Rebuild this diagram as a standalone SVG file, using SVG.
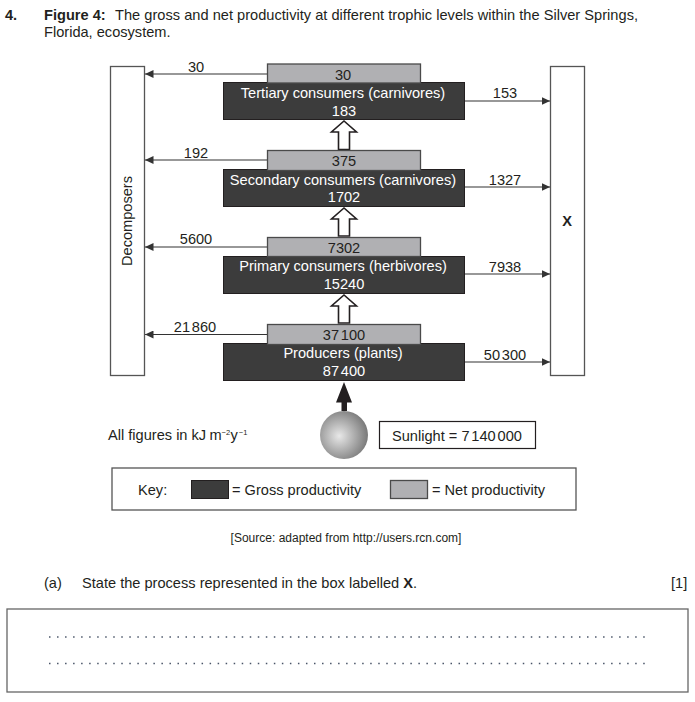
<svg xmlns="http://www.w3.org/2000/svg" width="695" height="702" viewBox="0 0 695 702">
<style>
text{font-family:"Liberation Sans",Arial,sans-serif;font-size:14.6px;fill:#231f20}
.m{text-anchor:middle}
.w{fill:#fff}
.b{font-weight:bold}
.n{word-spacing:-2.2px}
.sup{font-size:7.500px}
.gross{fill:#3c3c3c;stroke:#231f20;stroke-width:1}
.net{fill:#b0b0b3;stroke:#4a4a4a;stroke-width:1.3}
.box{fill:#fff;stroke:#555;stroke-width:1.3}
.flow{stroke:#333;stroke-width:1.2;fill:none}
.up{fill:#fff;stroke:#231f20;stroke-width:1.6}
.dots{stroke:#4a5568;stroke-width:1.6;stroke-dasharray:1.5 6.53;fill:none}
</style>
<defs>
<marker id="ah" markerUnits="userSpaceOnUse" markerWidth="9" markerHeight="8" refX="8.5" refY="4" orient="auto"><path d="M0 0L8.5 4L0 8Z" fill="#333"/></marker>
<radialGradient id="sun" cx="0.4" cy="0.52" r="0.58"><stop offset="0" stop-color="#e8e8e8"/><stop offset="1" stop-color="#7d7d7d"/></radialGradient>
</defs>
<text x="5" y="20" class="b">4.</text>
<text x="44" y="20" class="b">Figure 4:</text>
<text x="115" y="20" textLength="523">The gross and net productivity at different trophic levels within the Silver Springs,</text>
<text x="44" y="37">Florida, ecosystem.</text>

<g id="connectors">
<line class="flow" x1="267" y1="74" x2="145" y2="74" marker-end="url(#ah)"/>
<line class="flow" x1="267" y1="160" x2="145" y2="160" marker-end="url(#ah)"/>
<line class="flow" x1="267" y1="247" x2="145" y2="247" marker-end="url(#ah)"/>
<line class="flow" x1="267" y1="334.500" x2="145" y2="334.500" marker-end="url(#ah)"/>
<line class="flow" x1="465" y1="101" x2="550" y2="101" marker-end="url(#ah)"/>
<line class="flow" x1="465" y1="187" x2="550" y2="187" marker-end="url(#ah)"/>
<line class="flow" x1="465" y1="274" x2="550" y2="274" marker-end="url(#ah)"/>
<line class="flow" x1="465" y1="362" x2="550" y2="362" marker-end="url(#ah)"/>
<path class="up" d="M338.500 149.500V132H331.500L344 121L356.500 132H349.500V149.500Z"/>
<path class="up" d="M338.500 236V219H331.500L344 208L356.500 219H349.500V236Z"/>
<path class="up" d="M338.500 323V306H331.500L344 295L356.500 306H349.500V323Z"/>
<path d="M341.500 411V402.500H336L344 382L352 402.500H347V411Z" fill="#231f20"/>
</g>

<g id="decomposers">
<rect class="box" x="110.500" y="66.500" width="34" height="309"/>
<text class="m" transform="translate(132 221) rotate(-90)">Decomposers</text>
</g>
<g id="x">
<rect class="box" x="550.500" y="66.500" width="34" height="309"/>
<text class="m b" x="567" y="226">X</text>
</g>

<g id="tertiary">
<rect class="gross" x="223.500" y="82.500" width="241" height="37"/>
<rect class="net" x="267.500" y="64" width="153" height="19"/>
<text class="m" x="343" y="80">30</text>
<text class="m w" x="343" y="98">Tertiary consumers (carnivores)</text>
<text class="m w" x="344" y="116">183</text>
</g>
<g id="secondary">
<rect class="gross" x="223.500" y="169.500" width="241" height="37"/>
<rect class="net" x="267.500" y="150.500" width="153" height="20"/>
<text class="m" x="344" y="166">375</text>
<text class="m w" x="343" y="185">Secondary consumers (carnivores)</text>
<text class="m w" x="344" y="202">1702</text>
</g>
<g id="primary">
<rect class="gross" x="223.500" y="256.500" width="241" height="37"/>
<rect class="net" x="267.500" y="237.500" width="153" height="19"/>
<text class="m" x="344" y="253">7302</text>
<text class="m w" x="343" y="271">Primary consumers (herbivores)</text>
<text class="m w" x="344" y="289">15240</text>
</g>
<g id="producers">
<rect class="gross" x="223.500" y="343.500" width="241" height="37"/>
<rect class="net" x="267.500" y="324.500" width="153" height="20"/>
<text class="m n" x="344" y="340">37 100</text>
<text class="m w" x="343" y="358">Producers (plants)</text>
<text class="m w n" x="344" y="376">87 400</text>
</g>

<g id="labels">
<text class="m" x="196" y="72">30</text>
<text class="m" x="196" y="158">192</text>
<text class="m" x="196" y="244">5600</text>
<text class="m n" x="195" y="332">21 860</text>
<text class="m" x="505" y="98">153</text>
<text class="m" x="505" y="185">1327</text>
<text class="m" x="505" y="272">7938</text>
<text class="m n" x="505" y="360">50 300</text>
</g>

<text x="108" y="440">All figures in kJ<tspan x="209.500">m</tspan><tspan x="221.500" y="434.500" class="sup">−2</tspan><tspan x="230.500" y="440">y</tspan><tspan x="238.800" y="434.500" class="sup">−1</tspan></text>

<g id="sun-node"><circle cx="344" cy="435" r="24" fill="url(#sun)"/></g>
<g id="sunlight">
<rect x="379.500" y="421.500" width="156" height="27" fill="#fff" stroke="#231f20" stroke-width="1.200"/>
<text x="392" y="441">Sunlight = <tspan class="n">7 140 000</tspan></text>
</g>

<g id="key">
<rect class="box" x="112" y="468" width="464" height="42"/>
<text x="138" y="495">Key:</text>
<rect class="gross" x="191.500" y="480.500" width="37" height="18"/>
<text x="232" y="495">= Gross productivity</text>
<rect class="net" x="390.500" y="480.500" width="37" height="18"/>
<text x="432" y="495">= Net productivity</text>
</g>

<text class="m" x="346" y="542" style="font-size:12px">[Source: adapted from http://users.rcn.com]</text>

<text x="44" y="588">(a)</text>
<text x="82" y="588">State the process represented in the box labelled <tspan class="b">X</tspan>.</text>
<text x="671" y="588">[1]</text>

<g id="answer">
<rect x="7" y="609" width="681" height="83" fill="#fff" stroke="#666" stroke-width="1.300"/>
<line class="dots" x1="49" y1="637" x2="648" y2="637"/>
<line class="dots" x1="49" y1="663.500" x2="648" y2="663.500"/>
</g>
</svg>
